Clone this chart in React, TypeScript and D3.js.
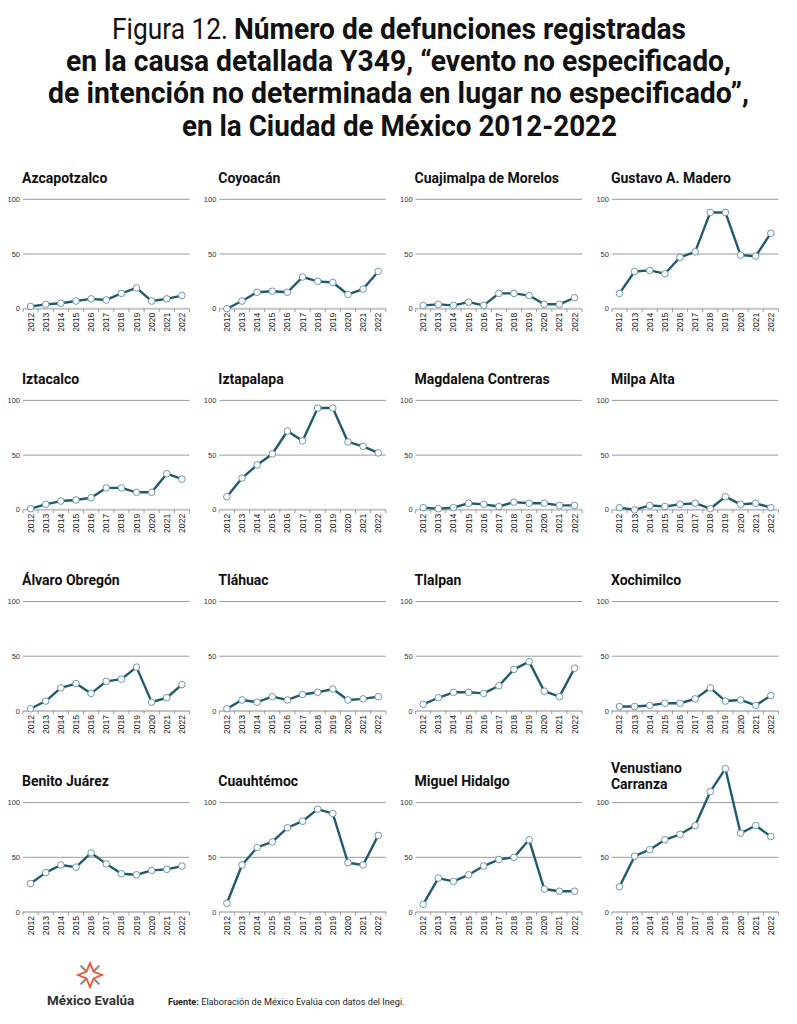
import * as d3 from 'd3';

const WIDTH = 797;
const HEIGHT = 1024;

// panel grid: left edge of first column, column step, top (100 line) of first row, row step
const COL_X = 23;
const COL_STEP = 196.3;
const ROW_Y = 199.3;
const ROW_STEP = 201.1;
const PANEL_W = 166.5;
const PANEL_H = 109.4;

const LINE_COLOR = '#1f5b6e';
const DOT_STROKE = '#5f8c9b';
const GRID_COLOR = '#9a9a9a';

const YEARS = ['2012', '2013', '2014', '2015', '2016', '2017', '2018', '2019', '2020', '2021', '2022'];
const Y_TICKS = [0, 50, 100];

const AZCAPOTZALCO = [2, 4, 5, 7, 9, 8, 14, 19, 7, 9, 12];
const COYOACAN = [0, 7, 15, 16, 15, 29, 25, 24, 13, 18, 34];
const CUAJIMALPA = [3, 4, 3, 6, 3, 14, 14, 12, 4, 4, 10];
const GUSTAVO_A_MADERO = [14, 34, 35, 32, 47, 52, 88, 88, 49, 48, 69];
const IZTACALCO = [1, 5, 8, 9, 11, 20, 20, 16, 16, 33, 28];
const IZTAPALAPA = [12, 29, 41, 51, 72, 63, 93, 93, 62, 58, 52];
const MAGDALENA_CONTRERAS = [2, 1, 2, 6, 5, 3, 7, 6, 6, 4, 4];
const MILPA_ALTA = [2, 0, 4, 3, 5, 6, 1, 12, 5, 6, 2];
const ALVARO_OBREGON = [2, 9, 21, 25, 16, 27, 29, 40, 8, 12, 24];
const TLAHUAC = [2, 10, 8, 13, 10, 15, 17, 20, 10, 11, 13];
const TLALPAN = [6, 12, 17, 17, 16, 23, 38, 45, 18, 13, 39];
const XOCHIMILCO = [4, 4, 5, 7, 7, 11, 21, 9, 10, 5, 14];
const BENITO_JUAREZ = [26, 36, 43, 41, 54, 44, 35, 34, 38, 39, 42];
const CUAUHTEMOC = [8, 43, 59, 64, 77, 83, 94, 90, 45, 43, 70];
const MIGUEL_HIDALGO = [7, 31, 28, 34, 42, 48, 50, 66, 21, 19, 19];
const VENUSTIANO_CARRANZA = [23, 51, 57, 66, 71, 79, 110, 131, 72, 79, 69];

const ALCALDIAS = [
  ['Azcapotzalco'],
  ['Coyoacán'],
  ['Cuajimalpa de Morelos'],
  ['Gustavo A. Madero'],
  ['Iztacalco'],
  ['Iztapalapa'],
  ['Magdalena Contreras'],
  ['Milpa Alta'],
  ['Álvaro Obregón'],
  ['Tláhuac'],
  ['Tlalpan'],
  ['Xochimilco'],
  ['Benito Juárez'],
  ['Cuauhtémoc'],
  ['Miguel Hidalgo'],
  ['Venustiano', 'Carranza'],
];

const SERIES = [
  AZCAPOTZALCO, COYOACAN, CUAJIMALPA, GUSTAVO_A_MADERO,
  IZTACALCO, IZTAPALAPA, MAGDALENA_CONTRERAS, MILPA_ALTA,
  ALVARO_OBREGON, TLAHUAC, TLALPAN, XOCHIMILCO,
  BENITO_JUAREZ, CUAUHTEMOC, MIGUEL_HIDALGO, VENUSTIANO_CARRANZA,
];

type PanelProps = {
  x: number;
  y: number;
  name: string[];
  values: number[];
};

const Panel = ({ x, y, name, values }: PanelProps) => {
  const xScale = d3.scaleBand().domain(YEARS).range([0, PANEL_W]);
  const yScale = d3.scaleLinear().domain([0, 100]).range([PANEL_H, 0]);
  const cx = (year: string) => (xScale(year) ?? 0) + xScale.bandwidth() / 2;

  const path = d3
    .line<number>()
    .x((_, i) => cx(YEARS[i]))
    .y((d) => yScale(d))(values);

  // title sits above the 100 line; two line names move up
  const titleY = name.length > 1 ? -30 : -16.5;

  return (
    <g transform={`translate(${x},${y})`}>
      {name.map((line, i) => (
        <text
          key={i}
          x={-1}
          y={titleY + i * 16}
          fontFamily="Roboto, sans-serif"
          fontWeight={700}
          fontSize={14}
          fill="#111"
        >
          {line}
        </text>
      ))}

      {Y_TICKS.map((t) => (
        <g key={t}>
          {t > 0 && (
            <line x1={0} x2={PANEL_W} y1={yScale(t)} y2={yScale(t)} stroke={GRID_COLOR} strokeWidth={1} />
          )}
          <text
            x={-3}
            y={yScale(t)}
            dy="0.35em"
            textAnchor="end"
            fontFamily="Liberation Sans, Arial, sans-serif"
            fontSize={7.5}
            fill="#333"
          >
            {t}
          </text>
        </g>
      ))}

      {/* x axis */}
      <line x1={0} x2={PANEL_W} y1={PANEL_H} y2={PANEL_H} stroke="#c4c4c4" strokeWidth={2} />
      {[...YEARS.map((yr) => xScale(yr) ?? 0), PANEL_W].map((tx, i) => (
        <line key={i} x1={tx} x2={tx} y1={PANEL_H} y2={PANEL_H + 3.5} stroke="#888" strokeWidth={0.8} />
      ))}
      {YEARS.map((yr) => (
        <text
          key={yr}
          transform={`translate(${cx(yr)},${PANEL_H + 4}) rotate(-90)`}
          dy="0.35em"
          textAnchor="end"
          fontFamily="Liberation Sans, Arial, sans-serif"
          fontSize={8.6}
          fill="#222"
        >
          {yr}
        </text>
      ))}

      <path d={path ?? ''} fill="none" stroke={LINE_COLOR} strokeWidth={2.4} strokeLinejoin="round" />
      {values.map((v, i) => (
        <circle
          key={i}
          cx={cx(YEARS[i])}
          cy={yScale(v)}
          r={3.3}
          fill="#fff"
          stroke={DOT_STROKE}
          strokeWidth={0.9}
        />
      ))}
    </g>
  );
};

const Logo = ({ x, y }: { x: number; y: number }) => {
  // four point star outline with grey diagonal rays
  const star = d3.range(8).map((i) => {
    const a = (i * Math.PI) / 4 - Math.PI / 2;
    const r = i % 2 === 0 ? 12 : 5;
    return [Math.cos(a) * r, Math.sin(a) * r] as [number, number];
  });
  const starPath = d3.line().curve(d3.curveLinearClosed)(star) ?? '';
  return (
    <g transform={`translate(${x},${y})`}>
      {[45, 135, 225, 315].map((deg) => {
        const a = (deg * Math.PI) / 180;
        return (
          <g key={deg}>
            <line
              x1={Math.cos(a) * 6}
              y1={Math.sin(a) * 6}
              x2={Math.cos(a) * 11}
              y2={Math.sin(a) * 11}
              stroke="#8a8a8a"
              strokeWidth={2.2}
            />
            <circle cx={Math.cos(a) * 12} cy={Math.sin(a) * 12} r={1.3} fill="#8a8a8a" />
          </g>
        );
      })}
      <path d={starPath} fill="none" stroke="#f0532d" strokeWidth={1.8} strokeLinejoin="miter" />
    </g>
  );
};

const TITLE_FONT = 'Roboto, sans-serif';

const App = () => {
  return (
    <svg
      width={WIDTH}
      height={HEIGHT}
      style={{ position: 'absolute', left: 0, top: 0, background: '#fff' }}
    >
      <rect width={WIDTH} height={HEIGHT} fill="#fff" />

      <g fontFamily={TITLE_FONT} fontSize={29} fill="#111">
        <text x={112} y={39} textLength={116} lengthAdjust="spacingAndGlyphs" fontWeight={400}>
          Figura 12.
        </text>
        <text x={234} y={39} textLength={452} lengthAdjust="spacingAndGlyphs" fontWeight={700}>
          Número de defunciones registradas
        </text>
        <text x={66} y={71} textLength={665} lengthAdjust="spacingAndGlyphs" fontWeight={700}>
          en la causa detallada Y349, “evento no especificado,
        </text>
        <text x={48} y={103} textLength={701} lengthAdjust="spacingAndGlyphs" fontWeight={700}>
          de intención no determinada en lugar no especificado”,
        </text>
        <text x={182} y={136} textLength={435} lengthAdjust="spacingAndGlyphs" fontWeight={700}>
          en la Ciudad de México 2012-2022
        </text>
      </g>

      {SERIES.map((values, i) => (
        <Panel
          key={i}
          x={COL_X + (i % 4) * COL_STEP}
          y={ROW_Y + Math.floor(i / 4) * ROW_STEP}
          name={ALCALDIAS[i]}
          values={values}
        />
      ))}

      <Logo x={90} y={975} />
      <text x={47} y={1005} fontFamily="Roboto, sans-serif" fontWeight={700} fontSize={13.5} fill="#333">
        México Evalúa
      </text>
      <text x={168} y={1005} fontFamily="Roboto, sans-serif" fontSize={9.2} fill="#222">
        <tspan fontWeight={700}>Fuente:</tspan> Elaboración de México Evalúa con datos del Inegi.
      </text>
    </svg>
  );
};

export default App;
